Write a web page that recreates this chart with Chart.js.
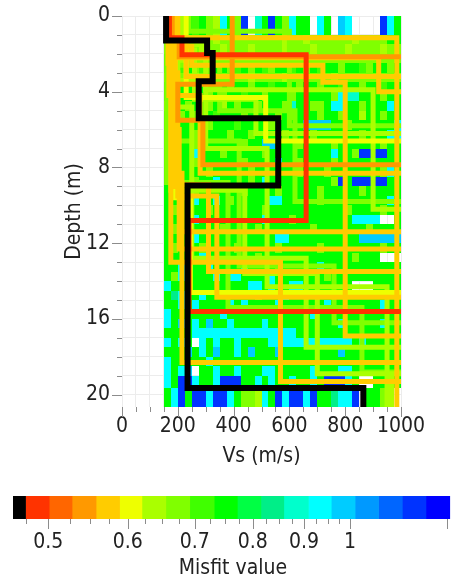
<!DOCTYPE html>
<html>
<head>
<meta charset="utf-8">
<script src="https://cdn.jsdelivr.net/npm/chart.js@4.4.1/dist/chart.umd.min.js"></script>
<style>
  html, body { margin: 0; padding: 0; background: #fff; }
  #wrap { position: relative; width: 458px; height: 581px; }
  #profiles { position: absolute; left: 0; top: 0; }
  #scale { position: absolute; left: 0; top: 475px; }
</style>
</head>
<body>
<div id="wrap">
  <canvas id="profiles" width="458" height="475"></canvas>
  <canvas id="scale" width="458" height="106"></canvas>
</div>
<script>
// colour classes of the misfit bar (class i spans misfitBounds[i]..misfitBounds[i+1])
const misfitBounds = [0.461, 0.4745, 0.501, 0.528, 0.558, 0.589, 0.620, 0.655, 0.692, 0.732,
  0.772, 0.815, 0.859, 0.909, 0.958, 1.012, 1.068, 1.128, 1.191, 1.258];
const misfitColors = ["#000000", "#ff3300", "#ff6600", "#ff9900", "#ffcc00", "#eeff00", "#aaff00",
  "#80ff00", "#40ff00", "#00ff00", "#00ff44", "#00ee88", "#00ffcc", "#00ffff", "#00ccff",
  "#0099ff", "#0066ff", "#0033ff", "#0000ff"];

// tick labels
const depthLabels = [0, 4, 8, 12, 16, 20];
const vsLabels = [0, 200, 400, 600, 800, 1000];
const barTicks = [0.475, 0.5, 0.525, 0.55, 0.575, 0.6, 0.625, 0.65, 0.675, 0.7, 0.725, 0.75,
  0.775, 0.8, 0.825, 0.85, 0.875, 0.9, 0.925, 0.95, 0.975, 1, 1.25];
const barLabels = [0.5, 0.6, 0.7, 0.8, 0.9, 1];

// single profiles drawn as lines: misfit, Vs of each layer, bottom depth of each layer
const profileMisfit = [0.470, 0.490, 0.545, 0.550, 0.565, 0.570, 0.570, 0.575, 0.575, 0.578,
  0.580, 0.580, 0.585, 0.585, 0.582, 0.600, 0.610, 0.630, 0.640, 0.640, 0.645, 0.650, 0.660,
  0.670, 0.680, 0.665];
const profileVs = [
  [158, 305, 325, 275, 560, 235, 865],
  [170, 215, 660, 240, 1100],
  [180, 205, 1100],
  [395, 200, 290, 1100],
  [165, 190, 215, 1100],
  [178, 985],
  [172, 200, 340, 1100],
  [170, 250, 720, 800, 1100],
  [175, 568, 1100],
  [168, 280, 1100],
  [182, 230, 1100],
  [182, 215, 1100],
  [185, 205, 1100],
  [200, 920, 1100],
  [190, 310, 1100],
  [230, 515, 1100],
  [190, 245, 1100],
  [210, 300, 900, 1100],
  [195, 260, 480, 1100],
  [200, 300, 520, 950],
  [175, 440, 700, 1100],
  [180, 250, 660, 1100],
  [185, 350, 620, 1100],
  [170, 420, 760, 1100],
  [160, 380, 860, 1100],
  [240, 600, 1100],
];
const profileBase = [
  [1.3, 1.95, 3.45, 5.4, 8.95, 19.65],
  [1.15, 2.05, 10.8, 15.6],
  [1.3, 2.15],
  [3.6, 5.5, 7.85],
  [2.5, 9.0, 11.4],
  [1.15],
  [3.0, 9.5, 14.85],
  [1.6, 2.6, 3.5, 16.9],
  [13.0, 19.3],
  [4.2, 8.3],
  [1.5, 3.2],
  [8.3, 18.3],
  [6.0, 12.3],
  [2.2, 4.0],
  [8.9, 13.5],
  [4.3, 6.6],
  [9.6, 14.6],
  [1.5, 3.9, 10.2],
  [1.8, 4.4, 6.2],
  [3.4, 7.0, 14.3],
  [9.2, 13.6, 18.9],
  [4.8, 12.8, 17.5],
  [2.6, 5.0, 9.8],
  [6.6, 13.2, 16.2],
  [8.8, 15.4, 18.8],
  [0.8, 5.8],
];

// the dense cloud of other profiles, as cells: column edges (Vs), row edges (depth), class codes
const cellVs = [150, 175, 200, 225, 250, 275, 300, 325, 350, 375, 400, 425, 450, 475, 500, 525,
  550, 575, 600, 625, 650, 675, 700, 725, 750, 775, 800, 825, 850, 875, 900, 925, 950, 975, 1000];
const cellDepths = [0, 1, 1.5, 2, 2.5, 3, 3.5, 4, 4.5, 5, 5.5, 6, 6.5, 7, 7.5, 8, 8.5, 9, 9.5,
  10, 10.5, 11, 11.5, 12, 12.5, 13, 13.5, 14, 14.5, 15, 15.5, 16, 16.5, 17, 17.5, 18, 18.5, 19,
  19.65, 21];
const cellRows = [
  "ggyghglycg lb.agbglcg g.cg.kc... .bcg",
  "gllylllyll lllllllyll yllllllyll llgg",
  "ylyllyllyl llyllllyll lyllllylll lyll",
  "glylllllll llllllllll llllllllll llll",
  "glhglhlggl hglghlgghg lghgglgghl gglg",
  "ylllylllll llyllllyll llllylllll llll",
  "gggglgllgl gglgghgggl gglgghgglg ghgg",
  "glgghglglg ghgglggglg gggglcaagg glgg",
  "ylglgglgyg lgglggglag gllgccgglg ggcg",
  "gglglgghgg glgggglglg gglgglggyg glgg",
  "glgggglggg hgggglgggg kkkkgglggg gggc",
  "glgglggggl gglgggglgg glgggggglg ggcc",
  "gggglggggg glggkkgggl gggglggggg glgg",
  "glggcggglg gggglggggg ggggcgglbb bbgg",
  "gggglggggg glggggcggl gggglggggg gggg",
  "glgggglggg gglggggggl ggglgggggg glcg",
  "gggglggcgg gglgcggggg gggglbgbbb bbgg",
  "gggglggggg glgggglggg gglggggglg gggg",
  "ggggcggcgl gggggccggg gglggggggg ggcg",
  "glgggglggg gggglggggg gggggglggg glgg",
  "ggggcggggg ggggcggglg gggggggccc c..g",
  "glgggggglg ggglgggggg glgggggggl gggg",
  "ggggcggggg ggggggccgg ggggggggkk kkkk",
  "glggglgggg lggggglggg gglggggggg glgg",
  "gggggcgggg ggglgggggg ggggggglgg g...",
  "ggcgggcggg gcgggglggg ggcggggggg gggg",
  "glccgggcgc cggggcgggg ggglgggggg gggg",
  "cggcgggggg ggccgcggcc ggggggg... gggg",
  "gscggcgggg ggglgggcgg gggggggggg gggg",
  "ggcgcggggc gcggggcggg gggcgggggg gcgg",
  "cgggggggcg gggggggggg gcgggggggg gggg",
  "cgkgcgkggc ggggcggggg gggggcgggg gcgg",
  "ggggcccccc cccccccccg gggggggggg gggg",
  "cgcg.cgcgg cggggccccc cccccccgcg gggg",
  "gggkgcgkgg cgkgggkggg gggggkgggg gggg",
  "cgggggcggg gggggggggg gggggggggg gggg",
  "cgck.ggcgg cgggccgggg gcgggccggg gggg",
  "cgbbcggcbb bggcgcggcg gcgbbbcg.. ggyg",
  "gcbgbbcbbc gllycgbcbb cbggsccb.g gly.",
];
// cell code -> colour class
const cellClass = { y: 6, l: 7, h: 8, g: 9, G: 10, s: 11, a: 12, c: 13, k: 14, b: 17, B: 18 };

Chart.defaults.font.family = "'DejaVu Sans Condensed', 'Liberation Sans', sans-serif";
Chart.defaults.font.size = 21;
Chart.defaults.color = "#222";

function colorOf(misfit) {
  let k = 0;
  for (let i = 0; i < misfitColors.length; i++) {
    if (misfit >= misfitBounds[i]) k = i;
  }
  return misfitColors[k];
}

// turn layer lists into a step line
function stepPoints(vs, base) {
  const pts = [];
  let top = 0;
  vs.forEach((v, i) => {
    const bottom = i < base.length ? base[i] : 22;
    pts.push({ x: v, y: top }, { x: v, y: bottom });
    top = bottom;
  });
  return pts;
}

// best profile first so it ends up on top
const order = profileMisfit.map((m, i) => i).sort((a, b) => profileMisfit[a] - profileMisfit[b]);
const datasets = order.map((i) => ({
  data: stepPoints(profileVs[i], profileBase[i]),
  showLine: true,
  borderColor: colorOf(profileMisfit[i]),
  borderWidth: i === 0 ? 6 : 5,
  borderJoinStyle: "miter",
  pointRadius: 0,
  fill: false,
  clip: 0,
}));

const cellPlugin = {
  id: "cells",
  beforeDatasetsDraw(chart) {
    const { ctx, chartArea: a, scales: { x, y } } = chart;
    ctx.save();
    ctx.beginPath();
    ctx.rect(a.left, a.top, a.right - a.left, a.bottom - a.top);
    ctx.clip();
    cellRows.forEach((row, r) => {
      const codes = row.replace(/ /g, "");
      const y0 = Math.round(y.getPixelForValue(cellDepths[r]));
      const y1 = Math.round(y.getPixelForValue(cellDepths[r + 1]));
      for (let c = 0; c < cellVs.length - 1; c++) {
        const k = cellClass[codes[c]];
        if (k === undefined) continue;
        const x0 = Math.round(x.getPixelForValue(cellVs[c]));
        const x1 = Math.round(x.getPixelForValue(cellVs[c + 1]));
        ctx.fillStyle = misfitColors[k];
        ctx.fillRect(x0, y0, x1 - x0, y1 - y0);
      }
    });
    ctx.restore();
  },
};

// major ticks long, minor ticks short
const tickPlugin = {
  id: "tickMarks",
  afterDraw(chart) {
    const { ctx, chartArea: a, scales: { x, y } } = chart;
    ctx.save();
    ctx.strokeStyle = "#8c8c8c";
    ctx.lineWidth = 1;
    ctx.beginPath();
    y.ticks.forEach((t) => {
      const py = Math.round(y.getPixelForValue(t.value)) + 0.5;
      const len = depthLabels.includes(t.value) ? 10 : 5;
      ctx.moveTo(a.left - len, py);
      ctx.lineTo(a.left, py);
    });
    x.ticks.forEach((t) => {
      const px = Math.round(x.getPixelForValue(t.value)) + 0.5;
      const len = vsLabels.includes(t.value) ? 10 : 5;
      ctx.moveTo(px, a.bottom);
      ctx.lineTo(px, a.bottom + len);
    });
    ctx.stroke();
    ctx.restore();
  },
};

new Chart(document.getElementById("profiles"), {
  type: "scatter",
  data: { datasets: datasets },
  options: {
    responsive: false,
    animation: false,
    events: [],
    layout: { padding: { left: 0, right: 57, top: 16, bottom: 0 } },
    plugins: { legend: { display: false }, tooltip: { enabled: false } },
    scales: {
      x: {
        type: "linear",
        position: "bottom",
        min: 0,
        max: 1000,
        afterFit: (s) => {
          s.height = 68;
          s.paddingLeft = 0;
          s.paddingRight = 0;
        },
        grid: { color: "#ececec", drawTicks: false },
        border: { display: false },
        ticks: {
          stepSize: 50,
          autoSkip: false,
          maxRotation: 0,
          padding: 7,
          callback: (v) => (vsLabels.includes(v) ? String(v) : ""),
        },
        title: { display: true, text: "Vs (m/s)", padding: { top: 0, bottom: 6 } },
      },
      y: {
        type: "linear",
        reverse: true,
        min: 0,
        max: 20.65,
        afterFit: (s) => {
          s.width = 122;
          s.paddingTop = 0;
          s.paddingBottom = 0;
        },
        grid: { color: "#ececec", drawTicks: false },
        border: { display: false },
        ticks: {
          stepSize: 1,
          includeBounds: false,
          autoSkip: false,
          padding: 12,
          callback: (v) => (depthLabels.includes(v) ? String(v) : ""),
        },
        title: { display: true, text: "Depth (m)", padding: { top: 62, bottom: 0 } },
      },
    },
  },
  plugins: [cellPlugin, tickPlugin],
});

const barTickPlugin = {
  id: "barTicks",
  afterDraw(chart) {
    const { ctx, chartArea: a, scales: { x } } = chart;
    ctx.save();
    ctx.strokeStyle = "#8c8c8c";
    ctx.lineWidth = 1;
    ctx.beginPath();
    x.ticks.forEach((t) => {
      const px = Math.round(x.getPixelForValue(t.value)) + 0.5;
      const len = barLabels.includes(t.value) || t.value > 1 ? 10 : 5;
      ctx.moveTo(px, a.bottom);
      ctx.lineTo(px, a.bottom + len);
    });
    ctx.stroke();
    ctx.restore();
  },
};

new Chart(document.getElementById("scale"), {
  type: "bar",
  data: {
    labels: [""],
    datasets: misfitColors.map((c, i) => ({
      data: [[misfitBounds[i], misfitBounds[i + 1]]],
      backgroundColor: c,
      borderWidth: 0,
      grouped: false,
      barPercentage: 1,
      categoryPercentage: 1,
    })),
  },
  options: {
    indexAxis: "y",
    responsive: false,
    animation: false,
    events: [],
    layout: { padding: { left: 13, right: 0, top: 21, bottom: 0 } },
    plugins: { legend: { display: false }, tooltip: { enabled: false } },
    scales: {
      x: {
        type: "logarithmic",
        min: 0.461,
        max: 1.267,
        afterFit: (s) => { s.height = 62; },
        afterBuildTicks: (s) => { s.ticks = barTicks.map((v) => ({ value: v })); },
        grid: { display: false, drawTicks: false },
        border: { display: false },
        ticks: {
          autoSkip: false,
          maxRotation: 0,
          padding: 11,
          callback: (v) => (barLabels.includes(v) ? String(v) : ""),
        },
        title: { display: true, text: "Misfit value", padding: { top: 0, bottom: 0 } },
      },
      y: { display: false },
    },
  },
  plugins: [barTickPlugin],
});
</script>
</body>
</html>
